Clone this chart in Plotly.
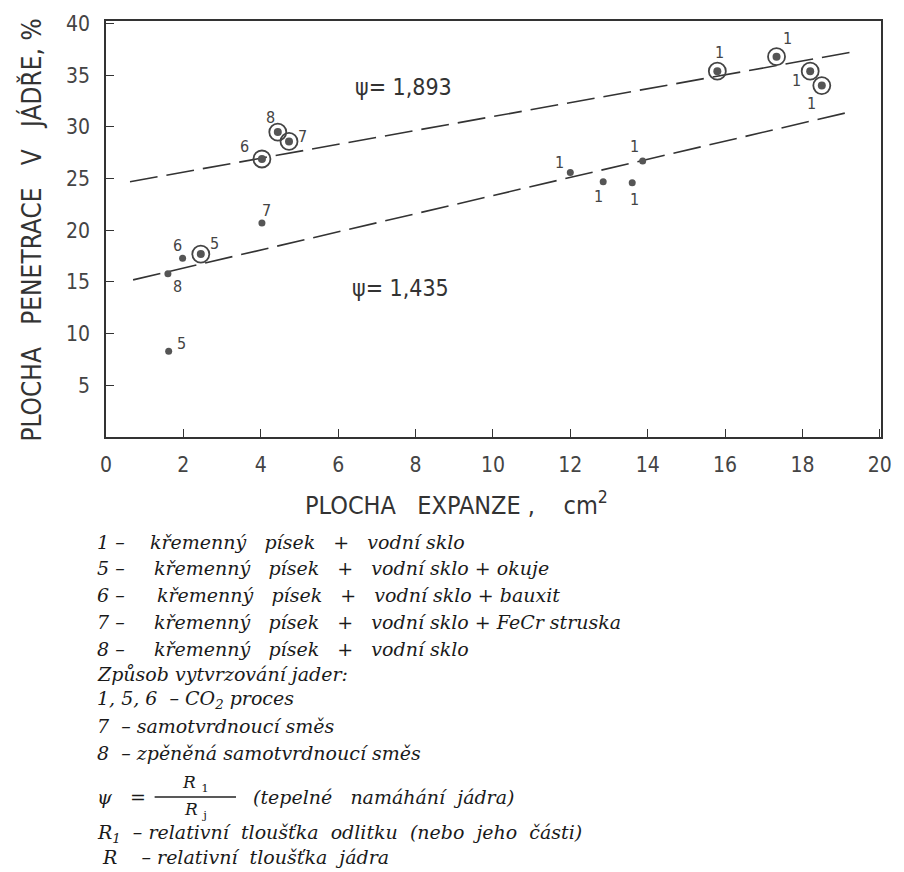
import plotly.graph_objects as go

# ---------------- data ----------------
x_ticks = [0, 2, 4, 6, 8, 10, 12, 14, 16, 18, 20]
y_ticks = [5, 10, 15, 20, 25, 30, 35, 40]

# circled points (ring markers)
ring_x = [2.45, 4.03, 4.44, 4.73, 15.8, 17.33, 18.2, 18.5]
ring_y = [17.7, 26.9, 29.5, 28.6, 35.4, 36.8, 35.4, 34.0]
ring_lbl = ["5", "6", "8", "7", "1", "1", "1", "1"]

# plain dots
dot_x = [1.62, 1.6, 1.98, 4.03, 12.0, 12.85, 13.6, 13.87]
dot_y = [8.3, 15.8, 17.3, 20.7, 25.6, 24.7, 24.6, 26.7]
dot_lbl = ["5", "8", "6", "7", "1", "1", "1", "1"]

# regression lines (dashed)
upper_x = [0.62, 19.36]
upper_y = [24.7, 37.3]
lower_x = [0.7, 19.28]
lower_y = [15.2, 31.5]

psi_upper = "ψ= 1,893"
psi_lower = "ψ= 1,435"

S = "\u00a0"
legend_prefix = ["1 –", "5 –", "6 –", "7 –", "8 –"]
legend_body = [
    "křemenný" + S * 2 + " písek" + S * 2 + " +" + S * 2 + " vodní sklo",
    "křemenný" + S * 2 + " písek" + S * 2 + " +" + S * 2 + " vodní sklo + okuje",
    "křemenný" + S * 2 + " písek" + S * 2 + " +" + S * 2 + " vodní sklo + bauxit",
    "křemenný" + S * 2 + " písek" + S * 2 + " +" + S * 2 + " vodní sklo + FeCr struska",
    "křemenný" + S * 2 + " písek" + S * 2 + " +" + S * 2 + " vodní sklo",
]
legend_lines = [
    "Způsob vytvrzování jader:",
    "1, 5, 6" + S + " – CO<sub>2</sub> proces",
    "7" + S + " – samotvrdnoucí směs",
    "8" + S + " – zpěněná samotvrdnoucí směs",
]
legend_tail = [
    "R<sub>1</sub>" + S + " – relativní" + S + " tloušťka" + S + " odlitku" + S + " (nebo" + S + " jeho" + S + " části)",
    S + "R" + S * 3 + " – relativní" + S + " tloušťka" + S + " jádra",
]

# ---------------- styling / layout ----------------
W, H = 904, 872
L, R, T, B = 106, 887, 21, 437
INK = "#333333"
SANS = "DejaVu Sans Condensed, Liberation Sans Narrow, DejaVu Sans, sans-serif"
SERIF = "DejaVu Serif, Liberation Serif, serif"

ring_off = [(14, -11), (-17, -12), (-7, -15), (13, -5), (2, -19), (11, -18), (-14, 9), (-10, 18)]
dot_off = [(13, -8), (10, 13), (-5, -13), (5, -13), (-11, -10), (-5, 15), (2, 17), (-8, -15)]


def px_x(p):
    return (p - L) / (R - L)


def px_y(p):
    return (B - p) / (B - T)


fig = go.Figure()

dash = "28px,9px"
fig.add_trace(go.Scatter(x=upper_x, y=upper_y, mode="lines",
                         line=dict(color=INK, width=1.6, dash=dash), hoverinfo="skip"))
fig.add_trace(go.Scatter(x=lower_x, y=lower_y, mode="lines",
                         line=dict(color=INK, width=1.6, dash=dash), hoverinfo="skip"))

fig.add_trace(go.Scatter(x=ring_x, y=ring_y, mode="markers",
                         marker=dict(symbol="circle-open", size=17, color="#444444",
                                     line=dict(width=1.8, color="#444444"))))
fig.add_trace(go.Scatter(x=ring_x, y=ring_y, mode="markers",
                         marker=dict(symbol="circle", size=8, color="#555555")))
fig.add_trace(go.Scatter(x=dot_x, y=dot_y, mode="markers",
                         marker=dict(symbol="circle", size=7, color="#555555")))

ann = []
for xs, ys, ls, offs in [(ring_x, ring_y, ring_lbl, ring_off), (dot_x, dot_y, dot_lbl, dot_off)]:
    for xv, yv, lb, (dx, dy) in zip(xs, ys, ls, offs):
        ann.append(dict(x=xv, y=yv, text=lb, showarrow=False, xshift=dx, yshift=-dy,
                        font=dict(family=SANS, size=16, color="#444444")))

ann.append(dict(x=px_x(355), y=px_y(87), xref="paper", yref="paper", text=psi_upper,
                xanchor="left", yanchor="middle", showarrow=False,
                font=dict(family=SANS, size=23, color=INK)))
ann.append(dict(x=px_x(352), y=px_y(288), xref="paper", yref="paper", text=psi_lower,
                xanchor="left", yanchor="middle", showarrow=False,
                font=dict(family=SANS, size=23, color=INK)))

# axis titles
ann.append(dict(x=px_x(459), y=px_y(503), xref="paper", yref="paper",
                text="PLOCHA" + S * 2 + " EXPANZE ," + S * 3 + " cm<sup>2</sup>", showarrow=False,
                xanchor="center", yanchor="middle",
                font=dict(family=SANS, size=25, color=INK)))
ann.append(dict(x=px_x(30), y=px_y(230), xref="paper", yref="paper",
                text="PLOCHA" + S * 2 + " PENETRACE" + S * 2 + " V" + S * 2 + " JÁDŘE, %",
                showarrow=False, textangle=-90, xanchor="center", yanchor="middle",
                font=dict(family=SANS, size=26, color=INK)))

tfont = dict(family=SERIF, size=19, color="#1a1a1a")
ffont = dict(family=SERIF, size=17, color="#1a1a1a")

# legend text block: numbered materials
line_y = [542, 568, 595, 622, 649]
body_x = [148, 152, 155, 152, 152]
for ly, bx, pre, body in zip(line_y, body_x, legend_prefix, legend_body):
    ann.append(dict(x=px_x(95), y=px_y(ly), xref="paper", yref="paper",
                    text="<i>" + pre + "</i>", showarrow=False,
                    xanchor="left", yanchor="middle", font=tfont))
    ann.append(dict(x=px_x(bx), y=px_y(ly), xref="paper", yref="paper",
                    text="<i>" + body + "</i>", showarrow=False,
                    xanchor="left", yanchor="middle", font=tfont))

for ly, txt in zip([674, 699, 726, 753], legend_lines):
    ann.append(dict(x=px_x(95), y=px_y(ly), xref="paper", yref="paper",
                    text="<i>" + txt + "</i>", showarrow=False,
                    xanchor="left", yanchor="middle", font=tfont))

# psi fraction
ann.append(dict(x=px_x(95), y=px_y(797), xref="paper", yref="paper",
                text="<i>ψ" + S * 2 + " =</i>", showarrow=False,
                xanchor="left", yanchor="middle", font=tfont))
ann.append(dict(x=px_x(196), y=px_y(783), xref="paper", yref="paper",
                text="<i>R</i>" + S + "<sub>1</sub>", showarrow=False,
                xanchor="center", yanchor="middle", font=ffont))
ann.append(dict(x=px_x(196), y=px_y(810), xref="paper", yref="paper",
                text="<i>R</i>" + S + "<sub>j</sub>", showarrow=False,
                xanchor="center", yanchor="middle", font=ffont))
ann.append(dict(x=px_x(252), y=px_y(797), xref="paper", yref="paper",
                text="<i>(tepelné" + S * 2 + " namáhání" + S + " jádra)</i>", showarrow=False,
                xanchor="left", yanchor="middle", font=tfont))
for ly, txt in zip([833, 857], legend_tail):
    ann.append(dict(x=px_x(95), y=px_y(ly), xref="paper", yref="paper",
                    text="<i>" + txt + "</i>", showarrow=False,
                    xanchor="left", yanchor="middle", font=tfont))

shapes = [dict(type="line", xref="paper", yref="paper",
               x0=px_x(155), x1=px_x(237), y0=px_y(797), y1=px_y(797),
               line=dict(color="#222222", width=1.5))]

axis_common = dict(showgrid=False, zeroline=False, showline=True, mirror=True,
                   linecolor=INK, linewidth=1.6, ticks="inside", ticklen=8,
                   tickwidth=1.4, tickcolor=INK,
                   tickfont=dict(family=SANS, size=21, color="#444444"))

fig.update_layout(
    width=W, height=H,
    margin=dict(l=L, r=W - R, t=T, b=H - B),
    paper_bgcolor="white", plot_bgcolor="white",
    showlegend=False,
    xaxis=dict(range=[0, 20.03], tickvals=x_ticks, ticktext=[str(v) for v in x_ticks],
               ticklabelstandoff=8, **axis_common),
    yaxis=dict(range=[0, 40.25], tickvals=y_ticks, ticktext=[str(v) for v in y_ticks],
               ticklabelstandoff=10, **axis_common),
    annotations=ann,
    shapes=shapes,
)

fig.write_html("out.html", config={"displayModeBar": False},
               post_script="document.body.style.margin='0px';document.body.style.overflow='hidden';")
